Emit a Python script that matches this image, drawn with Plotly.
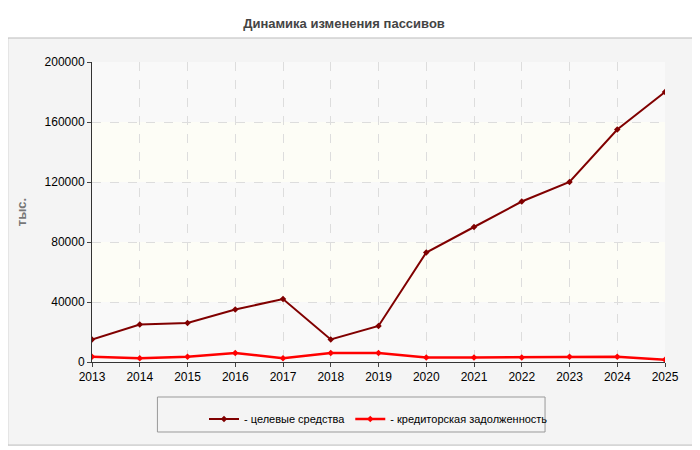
import plotly.graph_objects as go

years = [2013, 2014, 2015, 2016, 2017, 2018, 2019, 2020, 2021, 2022, 2023, 2024, 2025]
target_funds = [15000, 25000, 26000, 35000, 42000, 15000, 24000, 73000, 90000, 107000, 120000, 155000, 180000]
payables = [3500, 2500, 3500, 6000, 2500, 6000, 6000, 3000, 3000, 3000, 3500, 3500, 1500]
y_ticks = [0, 40000, 80000, 120000, 160000, 200000]

fig = go.Figure()
fig.add_trace(go.Scatter(x=years, y=target_funds, name="- целевые средства", mode="lines+markers",
                         line=dict(color="#800000", width=2),
                         marker=dict(symbol="diamond", size=5, color="#800000")))
fig.add_trace(go.Scatter(x=years, y=payables, name="- кредиторская задолженность", mode="lines+markers",
                         line=dict(color="#ff0000", width=2.5),
                         marker=dict(symbol="diamond", size=5, color="#ff0000")))

shapes = [dict(type="rect", xref="paper", yref="paper", x0=-0.147, x1=1.055, y0=-0.277, y1=1.08,
               fillcolor="#f4f4f4", line=dict(color="#bbbbbb", width=1), layer="below")]
# полосы фона
for i in range(len(y_ticks) - 1):
    shapes.append(dict(type="rect", xref="paper", yref="y", x0=0, x1=1, y0=y_ticks[i], y1=y_ticks[i + 1],
                       fillcolor="#fdfdf6" if i % 2 else "#f9f9f9", line=dict(width=0), layer="below"))
# легенда рамка
shapes.append(dict(type="rect", xref="paper", yref="paper", x0=(153 - 87) / 578, x1=(544 - 87) / 578,
                   y0=(362 - 432) / 300, y1=(362 - 397) / 300, fillcolor="rgba(0,0,0,0)",
                   line=dict(color="#999999", width=1)))

fig.update_layout(
    width=700, height=450, paper_bgcolor="white", plot_bgcolor="white",
    margin=dict(l=79, r=43, t=54, b=96),
    font=dict(family="Liberation Sans, Arial", size=12, color="#000"),
    title=dict(text="<b>Динамика изменения пассивов</b>", x=0.48, y=0.975, xanchor="center",
               font=dict(size=13, color="#444")),
    shapes=shapes,
    showlegend=True,
    legend=dict(orientation="h", x=0.5, xanchor="center", y=-0.19, yanchor="middle",
                font=dict(size=11), bgcolor="rgba(0,0,0,0)"),
    xaxis=dict(range=[2013, 2025], tickvals=years, showgrid=True, gridcolor="#dddddd", griddash="dash",
               showline=True, linecolor="#333", ticks="outside", ticklen=4, zeroline=False),
    yaxis=dict(range=[0, 200000], tickvals=y_ticks, showgrid=True, gridcolor="#dddddd", griddash="dash",
               showline=True, linecolor="#333", ticks="outside", ticklen=4, zeroline=False,
               title=dict(text="<b>тыс.</b>", font=dict(size=13, color="#777")), tickformat="d"),
)

fig.write_html("out.html")
